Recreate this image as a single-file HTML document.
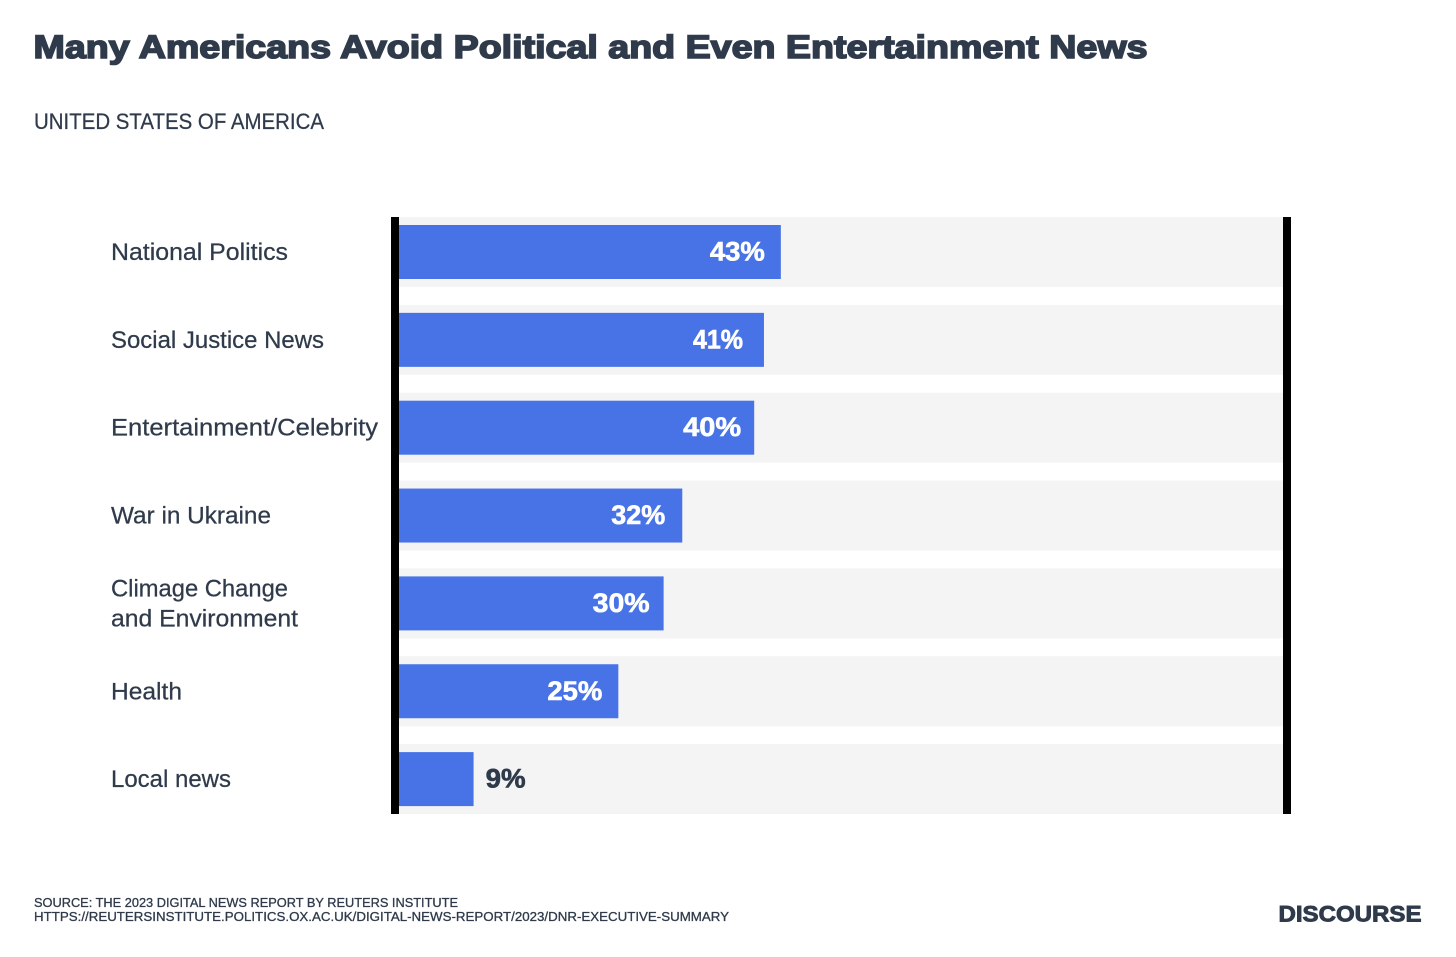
<!DOCTYPE html>
<html lang="en">
<head>
<meta charset="utf-8">
<title>Many Americans Avoid Political and Even Entertainment News</title>
<style>
html,body{margin:0;padding:0;background:#fff;width:1456px;height:957px;overflow:hidden}
svg{display:block;font-family:"Liberation Sans",sans-serif}
</style>
</head>
<body>
<svg id="chart" width="1456" height="957" viewBox="0 0 1456 957" xmlns="http://www.w3.org/2000/svg">
  <text x="33.5" y="58" font-size="32.5" font-weight="700" fill="#2f3a4b" stroke="#2f3a4b" stroke-width="1.6" textLength="1114" lengthAdjust="spacingAndGlyphs">Many Americans Avoid Political and Even Entertainment News</text>
  <text x="34" y="129" font-size="22.5" fill="#2f3a4b" stroke="#2f3a4b" stroke-width="0.25" textLength="290" lengthAdjust="spacingAndGlyphs">UNITED STATES OF AMERICA</text>
  <g id="tracks"></g>
  <g id="bars"></g>
  <rect x="391" y="217" width="8" height="597" fill="#000"/>
  <rect x="1283" y="217" width="8" height="597" fill="#000"/>
  <g id="labels"></g>
  <g id="values"></g>
  <text x="34" y="907" font-size="13" fill="#2f3a4b" stroke="#2f3a4b" stroke-width="0.3" textLength="424" lengthAdjust="spacingAndGlyphs">SOURCE: THE 2023 DIGITAL NEWS REPORT BY REUTERS INSTITUTE</text>
  <a><text x="34" y="921" font-size="13" fill="#2f3a4b" stroke="#2f3a4b" stroke-width="0.3" textLength="695" lengthAdjust="spacingAndGlyphs">HTTPS://REUTERSINSTITUTE.POLITICS.OX.AC.UK/DIGITAL-NEWS-REPORT/2023/DNR-EXECUTIVE-SUMMARY</text></a>
  <text x="1278.5" y="921.5" font-size="22.5" font-weight="700" fill="#2f3a4b" stroke="#2f3a4b" stroke-width="0.9" textLength="143" lengthAdjust="spacingAndGlyphs">DISCOURSE</text>
</svg>
<script>
const categories = [["National Politics"], ["Social Justice News"], ["Entertainment/Celebrity"], ["War in Ukraine"], ["Climage Change", "and Environment"], ["Health"], ["Local news"]];
const seriesValues = [43, 41.1, 40, 31.9, 29.8, 24.7, 8.4];
const printedValues = ["43%", "41%", "40%", "32%", "30%", "25%", "9%"];

const SVG_NS = "http://www.w3.org/2000/svg";
const axisLeft = 399, axisRight = 1283, pixelsPerUnit = 8.88;
const rowTop = 217, rowStep = 87.85, rowHeight = 70, barInset = 8, barHeight = 54;
const insideThreshold = 15;
const ink = "#2f3a4b";

// Typeface substitution: rendered text widths, keyed by string, so Liberation matches the original font's metrics.
const textFit = {
  "National Politics": 177, "Social Justice News": 213, "Entertainment/Celebrity": 267,
  "War in Ukraine": 160, "Climage Change": 177, "and Environment": 187, "Health": 71, "Local news": 120,
  "43%": 55, "41%": 50, "40%": 58, "32%": 54, "30%": 57, "25%": 55, "9%": 40
};

function xScale(v) { return axisLeft + v * pixelsPerUnit; }
function rowY(i) { return rowTop + i * rowStep; }
function make(tag, attrs, parent, text) {
  const el = document.createElementNS(SVG_NS, tag);
  for (const k in attrs) el.setAttribute(k, attrs[k]);
  if (text !== undefined) {
    el.textContent = text;
    if (textFit[text]) {
      el.setAttribute("textLength", textFit[text]);
      el.setAttribute("lengthAdjust", "spacingAndGlyphs");
    }
  }
  parent.appendChild(el);
  return el;
}

const tracksG = document.getElementById("tracks");
const barsG = document.getElementById("bars");
const labelsG = document.getElementById("labels");
const valuesG = document.getElementById("values");

categories.forEach(function (lines, i) {
  const track = make("rect", { x: axisLeft, y: rowY(i), width: axisRight - axisLeft, height: rowHeight, fill: "#f4f4f4" }, tracksG);
  
  

  const v = seriesValues[i];
  const end = xScale(v);
  const bar = make("rect", { x: axisLeft, y: rowY(i) + barInset, width: end - axisLeft, height: barHeight, fill: "#4873e6" }, barsG);
  
  

  const center = rowY(i) + rowHeight / 2;
  lines.forEach(function (line, j) {
    const baseline = center + 8 + (j - (lines.length - 1) / 2) * 30;
    const label = make("text", { x: 111, y: baseline, "font-size": 24.5, fill: ink, stroke: ink, "stroke-width": 0.25 }, labelsG, line);
    
    
  });

  const inside = v > insideThreshold;
  const valueFill = inside ? "#ffffff" : ink;
  const val = make("text", {
    x: inside ? end - 71 : end + 12,
    y: center + 8.5,
    "font-size": 27,
    "font-weight": 700,
    fill: valueFill,
    stroke: valueFill,
    "stroke-width": 0.6
  }, valuesG, printedValues[i]);
  
  
});
</script>
</body>
</html>
